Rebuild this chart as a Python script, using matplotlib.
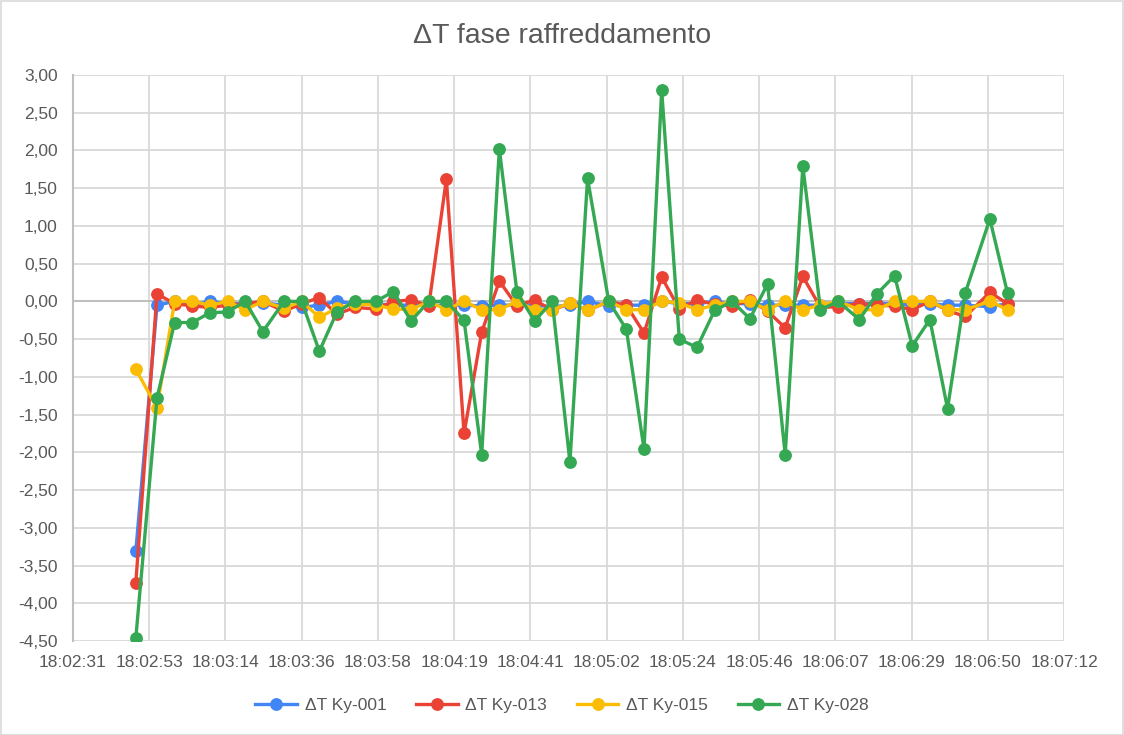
import matplotlib
matplotlib.use("Agg")
import matplotlib.pyplot as plt
import numpy as np
from matplotlib.ticker import FuncFormatter, FixedLocator
from matplotlib.patches import Rectangle

plt.rcParams['font.family'] = ['Liberation Sans', 'DejaVu Sans']

times = ["18:02:49", "18:02:55", "18:03:00", "18:03:05", "18:03:10", "18:03:15", "18:03:20",
         "18:03:25", "18:03:31", "18:03:36", "18:03:41", "18:03:46", "18:03:51", "18:03:57",
         "18:04:02", "18:04:07", "18:04:12", "18:04:17", "18:04:22", "18:04:27", "18:04:32",
         "18:04:37", "18:04:42", "18:04:47", "18:04:52", "18:04:57", "18:05:03", "18:05:08",
         "18:05:13", "18:05:18", "18:05:23", "18:05:28", "18:05:33", "18:05:38", "18:05:43",
         "18:05:48", "18:05:53", "18:05:58", "18:06:03", "18:06:08", "18:06:14", "18:06:19",
         "18:06:24", "18:06:29", "18:06:34", "18:06:39", "18:06:44", "18:06:51", "18:06:56"]

ky001 = [-3.31, -0.05, 0.00, -0.05, 0.00, -0.03, -0.03, -0.02, -0.05, -0.08, -0.05, 0.00, -0.03,
         -0.03, -0.05, -0.05, -0.05, -0.05, -0.05, -0.06, -0.05, -0.05, -0.05, -0.07, -0.05, 0.00,
         -0.06, -0.05, -0.05, 0.00, -0.03, -0.03, 0.00, -0.03, -0.03, -0.05, -0.05, -0.05, -0.05,
         -0.03, -0.03, -0.03, -0.03, -0.05, -0.03, -0.05, -0.05, -0.07, -0.03]

ky013 = [-3.73, 0.10, -0.03, -0.06, -0.08, -0.05, -0.03, 0.00, -0.13, -0.03, 0.05, -0.17, -0.08,
         -0.10, 0.00, 0.02, -0.06, 1.62, -1.75, -0.41, 0.27, -0.06, 0.02, -0.12, -0.02, -0.12,
         0.00, -0.05, -0.42, 0.32, -0.10, 0.02, -0.04, -0.06, 0.02, -0.13, -0.35, 0.33, -0.08,
         -0.07, -0.03, -0.05, -0.06, -0.11, 0.00, -0.12, -0.20, 0.12, -0.03]

ky015 = [-0.90, -1.41, 0.00, 0.00, -0.05, 0.00, -0.11, 0.00, -0.09, 0.00, -0.21, -0.09, -0.03,
         -0.05, -0.10, -0.11, 0.00, -0.11, 0.00, -0.11, -0.11, 0.00, -0.11, -0.11, -0.02, -0.12,
         0.00, -0.11, -0.11, 0.00, -0.02, -0.11, -0.05, 0.00, 0.00, -0.11, 0.00, -0.11, -0.05,
         0.00, -0.11, -0.11, 0.00, 0.00, 0.00, -0.11, -0.11, 0.00, -0.11]

ky028 = [-4.46, -1.28, -0.28, -0.28, -0.15, -0.14, 0.00, -0.40, 0.00, 0.00, -0.66, -0.14, 0.00,
         0.00, 0.13, -0.26, 0.00, 0.00, -0.25, -2.03, 2.02, 0.12, -0.26, 0.00, -2.13, 1.63,
         0.00, -0.37, -1.96, 2.80, -0.50, -0.61, -0.12, 0.00, -0.23, 0.23, -2.03, 1.79, -0.11,
         0.00, -0.24, 0.10, 0.34, -0.59, -0.24, -1.42, 0.11, 1.09, 0.11]

series_names = ["ΔT Ky-001", "ΔT Ky-013", "ΔT Ky-015", "ΔT Ky-028"]
series_values = [ky001, ky013, ky015, ky028]
series_colors = ["#4285F4", "#EA4335", "#FBBC04", "#34A853"]
title = "ΔT fase raffreddamento"


def to_sec(s):
    h, m, sec = (int(p) for p in s.split(":"))
    return h * 3600 + m * 60 + sec


x = np.array([to_sec(t) for t in times], dtype=float)

fig = plt.figure(figsize=(11.24, 7.35), dpi=100)
ax = fig.add_axes([73 / 1124, 1 - 641 / 735, (1064 - 73) / 1124, (641 - 75) / 735])

for name, vals, col in zip(series_names, series_values, series_colors):
    ax.plot(x, vals, color=col, lw=2.4, marker='o', markersize=8.2,
            markerfacecolor=col, markeredgecolor=col, label=name, zorder=3)

xmin = 3007 * 21.6
xmax = 3020 * 21.6
ax.set_xlim(xmin, xmax)
ax.set_ylim(-4.5, 3.0)
ax.xaxis.set_major_locator(FixedLocator(xmin + 21.6 * np.arange(14)))
ax.yaxis.set_major_locator(FixedLocator(np.arange(-4.5, 3.01, 0.5)))


def fmt_time(v, pos):
    s = int(round(v))
    return f"{s // 3600:02d}:{(s % 3600) // 60:02d}:{s % 60:02d}"


def fmt_y(v, pos):
    return f"{v:.2f}".replace(".", ",")


ax.xaxis.set_major_formatter(FuncFormatter(fmt_time))
ax.yaxis.set_major_formatter(FuncFormatter(fmt_y))

ax.grid(True, color="#D9D9D9", lw=1.3, zorder=0)
ax.axhline(0, color="#BFBFBF", lw=1.5, zorder=1)
for sp in ["top", "right", "bottom"]:
    ax.spines[sp].set_visible(False)
ax.spines["left"].set_color("#BFBFBF")
ax.spines["left"].set_linewidth(1.5)
ax.tick_params(axis='both', length=0, labelsize=12.5, labelcolor="#595959")
ax.tick_params(axis='x', pad=10)
ax.tick_params(axis='y', pad=11)
ax.set_axisbelow(True)

fig.text(0.5, 1 - 36 / 735, title, ha='center', va='center', fontsize=20.5, color="#595959")

leg = fig.legend(loc='center', bbox_to_anchor=(0.5, 1 - 705 / 735), ncol=4, frameon=False,
                 fontsize=12.5, handlelength=2.4, columnspacing=1.7, handletextpad=0.45)
for t in leg.get_texts():
    t.set_color("#595959")

fig.patches.append(Rectangle((0.5 / 1124, 0.5 / 735), 1 - 1.5 / 1124, 1 - 1.5 / 735,
                             transform=fig.transFigure, fill=False, edgecolor="#D9D9D9", lw=1.2))

fig.savefig("out.png", dpi=100)
